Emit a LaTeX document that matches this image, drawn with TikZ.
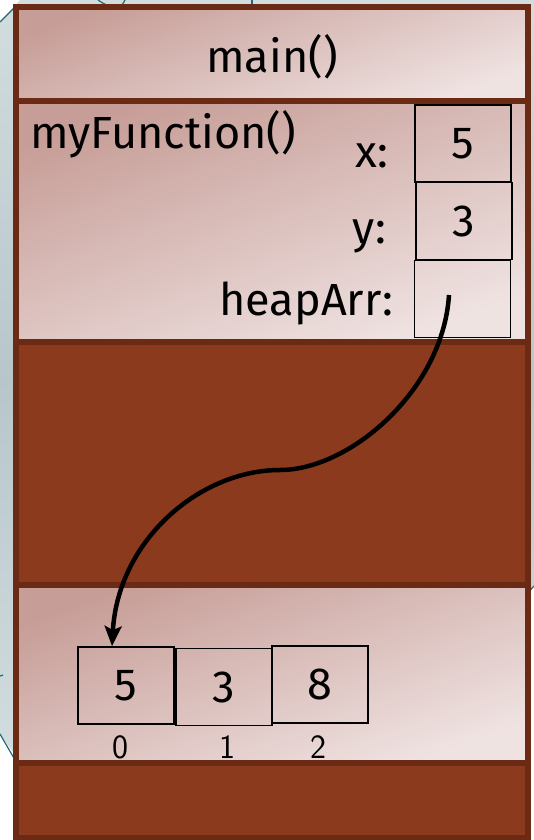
\documentclass[tikz,border=0pt]{standalone}
\usepackage{fontspec}
\setmainfont{Fira Sans}
\usetikzlibrary{arrows.meta}
\definecolor{framecol}{HTML}{6A2A14}
\definecolor{brownfill}{HTML}{8B3A1E}
\definecolor{pinkA}{HTML}{C79D97}
\definecolor{pinkB}{HTML}{EFE3E2}
\definecolor{bgA}{HTML}{D3DDDF}
\definecolor{bgB}{HTML}{B8C6CA}
\definecolor{tealline}{HTML}{1E6A77}
\begin{document}
\begin{tikzpicture}[x=1pt,y=-1pt,
  band/.style={top color=pinkA,bottom color=pinkB,shading angle=20},
  cell/.style={draw=black,line width=1.8pt,minimum width=96pt,minimum height=77pt,inner sep=0pt,font=\fontsize{45}{52}\selectfont},
  lbl/.style={font=\fontsize{45}{52}\selectfont,inner sep=0pt},
  idx/.style={font=\sffamily\fontsize{34}{40}\selectfont,inner sep=0pt},
  divider/.style={draw=framecol,line width=6pt},
  ptrline/.style={line width=4.5pt,-{Stealth[length=20pt,width=17pt,inset=4pt]}},
  bgline/.style={draw=tealline,line width=1.2pt}
]
\useasboundingbox (0,0) rectangle (534,840);
% background shape behind the frame
\shade[top color=bgA,bottom color=bgA,middle color=bgB] (0,22) -- (20,0) -- (534,0) -- (534,586) -- (526,596) -- (20,762) -- (0,734) -- cycle;
\draw[bgline] (0,22) -- (17,5);
\draw[bgline] (0,734) -- (15,760);
\draw[bgline] (534,586) -- (527,594);
\draw[bgline] (98,0) .. controls (104,4) .. (112,7);
\draw[bgline] (125,0) -- (121,7);
\draw[bgline] (252,0) -- (252,7);
\draw[bgline] (0,676) -- (3,675);
% bands
\shade[band] (16,7) rectangle (528,101);
\shade[band] (16,101) rectangle (528,342);
\fill[brownfill] (16,342) rectangle (528,585);
\shade[band] (16,585) rectangle (528,763);
\fill[brownfill] (16,763) rectangle (528,838);
\draw[divider] (16,101) -- (528,101);
\draw[divider] (16,342) -- (528,342);
\draw[divider] (16,585) -- (528,585);
\draw[divider] (16,763) -- (528,763);
\draw[divider] (16,7) rectangle (528,838);
% texts
\node[lbl] (mainlbl) at (272,57) {main()};
\node[lbl,anchor=base west] (fnlbl) at (30,148) {myFunction()};
\node[lbl,anchor=base east] (xlbl) at (388,167) {x:};
\node[lbl,anchor=base east] (ylbl) at (386,243) {y:};
\node[lbl,anchor=base east] (hlbl) at (393,315) {heapArr:};
% stack cells
\node[cell] (xbox) at (463,143.5) {5};
\node[cell] (ybox) at (464,221) {3};
\node[cell] (hbox) at (462.5,299) {};
% heap array
\node[cell] (a0) at (126,685.5) {5};
\node[cell] (a1) at (224,687) {3};
\node[cell] (a2) at (320,684.5) {8};
\node[idx] (i0) at (120,747) {0};
\node[idx] (i1) at (227,747) {1};
\node[idx] (i2) at (318,747) {2};
% pointer
\coordinate (ptr) at (449,295);
\coordinate (mid) at (280,470);
\coordinate (tipx) at (112,0);
\draw[ptrline] (ptr) .. controls (443,390) and (350,470) .. (mid) .. controls (200,470) and (118,540) .. (a0.north -| tipx);
\end{tikzpicture}
\end{document}
